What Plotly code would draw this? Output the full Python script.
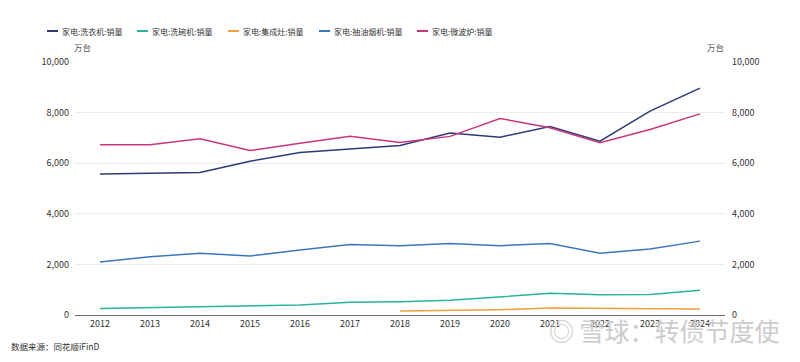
import plotly.graph_objects as go

years = [str(y) for y in range(2012, 2025)]
washer = [5570, 5610, 5630, 6080, 6420, 6560, 6700, 7190, 7030, 7450, 6870, 8060, 8970]
dishwasher = [260, 290, 330, 355, 395, 500, 525, 580, 710, 855, 800, 815, 975]
stove = [None, None, None, None, None, None, 160, 185, 210, 275, 265, 260, 240]
hood = [2090, 2300, 2440, 2330, 2570, 2790, 2740, 2830, 2740, 2830, 2440, 2610, 2920]
microwave = [6730, 6730, 6970, 6500, 6790, 7060, 6820, 7060, 7770, 7400, 6810, 7330, 7950]

names = ["家电:洗衣机:销量", "家电:洗碗机:销量", "家电:集成灶:销量", "家电:抽油烟机:销量", "家电:微波炉:销量"]
colors = ["#2e3a78", "#2bb39c", "#f0a13c", "#3a77bd", "#c9377a"]
series = [washer, dishwasher, stove, hood, microwave]
tickvals = [0, 2000, 4000, 6000, 8000, 10000]
ticktext = ["0", "2,000", "4,000", "6,000", "8,000", "10,000"]

font = "Noto Sans CJK SC, Microsoft YaHei, sans-serif"
OFF = 8  # page body margin
W, H = 800, 362
# target plot area in screen pixels
SL, SR, ST, SB = 75, 725, 62, 315
L, T = SL - OFF, ST - OFF
R, B = W - (SR - OFF), H - (SB - OFF)
pw, ph = SR - SL, SB - ST

def px(x):
    return (x - SL) / pw

def py(y):
    return (SB - y) / ph

fig = go.Figure()
for n, c, s in zip(names, colors, series):
    fig.add_trace(go.Scatter(x=years, y=s, name=n, mode="lines",
                             line=dict(color=c, width=1.5), connectgaps=False))
fig.add_trace(go.Scatter(x=years, y=washer, yaxis="y2", showlegend=False,
                         mode="lines", line=dict(width=0), hoverinfo="skip", opacity=0))

fig.update_layout(
    width=W, height=H,
    margin=dict(l=L, r=R, t=T, b=B, autoexpand=False),
    paper_bgcolor="white", plot_bgcolor="white",
    font=dict(family=font, size=9, color="#444"),
    showlegend=False,
    xaxis=dict(type="category", showgrid=False, showline=True, linecolor="#6e7079",
               linewidth=1, ticks="", tickfont=dict(size=9, color="#333"),
               range=[-0.5, 12.5], fixedrange=True),
    yaxis=dict(range=[0, 10000], tickvals=tickvals, ticktext=ticktext, showgrid=True,
               gridcolor="#ececec", zeroline=False, showline=False,
               tickfont=dict(size=9, color="#333"), ticklabelstandoff=5),
    yaxis2=dict(range=[0, 10000], tickvals=tickvals, ticktext=ticktext, overlaying="y",
                side="right", showgrid=False, zeroline=False, showline=False,
                tickfont=dict(size=9, color="#333"), ticklabelstandoff=6),
)

# manual legend
legend_x = [47, 137, 228, 319, 417]
ly = py(31)
for n, c, x0 in zip(names, colors, legend_x):
    fig.add_shape(type="line", xref="paper", yref="paper", x0=px(x0), x1=px(x0 + 11),
                  y0=ly, y1=ly, line=dict(color=c, width=2))
    fig.add_annotation(text=n, xref="paper", yref="paper", x=px(x0 + 13), y=ly,
                       xanchor="left", yanchor="middle", showarrow=False,
                       font=dict(size=8, color="#333"))

fig.add_annotation(text="万台", xref="paper", yref="paper", x=px(82), y=py(47),
                   xanchor="center", yanchor="middle", showarrow=False,
                   font=dict(size=8.5, color="#555"))
fig.add_annotation(text="万台", xref="paper", yref="paper", x=px(715), y=py(47),
                   xanchor="center", yanchor="middle", showarrow=False,
                   font=dict(size=8.5, color="#555"))
fig.add_annotation(text="数据来源：同花顺iFinD", xref="paper", yref="paper",
                   x=px(9), y=py(346), xanchor="left", yanchor="middle", showarrow=False,
                   font=dict(size=8.5, color="#333"))
fig.add_annotation(text="◎ 雪球：转债节度使", xref="paper", yref="paper",
                   x=px(782), y=py(330), xanchor="right", yanchor="middle", showarrow=False,
                   font=dict(size=25, color="#cccccc"))

fig.write_html("out.html")
